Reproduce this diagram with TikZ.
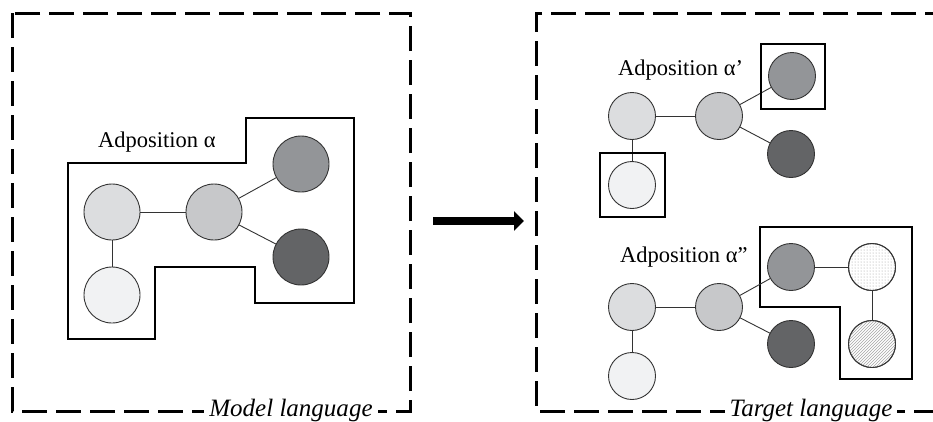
\documentclass[tikz,border=0pt]{standalone}
\usepackage{fontspec}
\setmainfont{Liberation Serif}
\usetikzlibrary{arrows.meta,patterns}
\definecolor{gA}{HTML}{DCDDDF}
\definecolor{gB}{HTML}{C7C8CA}
\definecolor{gC}{HTML}{939598}
\definecolor{gD}{HTML}{636466}
\definecolor{gE}{HTML}{F1F2F3}
\definecolor{edgec}{HTML}{333333}
\tikzset{
  big/.style={circle,draw=edgec,line width=0.9pt,minimum size=56pt,inner sep=0pt,outer sep=0pt},
  small/.style={circle,draw=edgec,line width=0.9pt,minimum size=47pt,inner sep=0pt,outer sep=0pt},
  link/.style={draw=edgec,line width=0.9pt},
  frame/.style={draw=black,line width=3pt,dash pattern=on 25pt off 9pt},
  group/.style={draw=black,line width=1.8pt,line join=miter},
  lbl/.style={font=\fontsize{22.5}{27}\selectfont,inner sep=0pt,anchor=base west},
  tag/.style={font=\fontsize{25}{30}\selectfont\itshape,fill=white,inner xsep=5pt,inner ysep=2pt,anchor=base}
}
\begin{document}
\begin{tikzpicture}[x=1pt,y=-1pt]
\useasboundingbox (0,0) rectangle (933,421);
\clip (0,0) rectangle (933,421);
% frames
\draw[frame] (12,13) rectangle (410,411);
\draw[frame] (950,13) -- (536,13) -- (536,411) -- (950,411);
% left group
\draw[group] (68,163) -- (246,163) -- (246,118) -- (354,118) -- (354,303) -- (255,303) -- (255,267) -- (155,267) -- (155,339) -- (68,339) -- cycle;
\node[big,fill=gA] (c1) at (112,212) {};
\node[big,fill=gB] (c2) at (214,212) {};
\node[big,fill=gC] (c3) at (301,164) {};
\node[big,fill=gD] (c4) at (301,257) {};
\node[big,fill=gE] (c5) at (112,295) {};
\draw[link] (c1) -- (c2);
\draw[link] (c2) -- (c3);
\draw[link] (c2) -- (c4);
\draw[link] (c1) -- (c5);
\node[lbl] (la) at (98,147) {Adposition α};
% arrow
\coordinate (a1) at (433,221);
\coordinate (a2) at (524,221);
\draw[line width=8pt,-{Triangle[length=10pt,width=19pt]}] (a1) -- (a2);
% right top
\node[small,fill=gA] (d1) at (632,116) {};
\node[small,fill=gB] (d2) at (719,116) {};
\node[small,fill=gC] (d3) at (792,76) {};
\node[small,fill=gD] (d4) at (791,154) {};
\node[small,fill=gE] (d5) at (632,185) {};
\draw[link] (d1) -- (d2);
\draw[link] (d2) -- (d3);
\draw[link] (d2) -- (d4);
\draw[link] (d1) -- (d5);
\draw[group] (761,44) rectangle (825,109);
\draw[group] (600,153) rectangle (665,217);
\node[lbl] (lb) at (618,75) {Adposition α’};
% right bottom
\draw[group] (760,227) -- (912,227) -- (912,379) -- (840,379) -- (840,307) -- (760,307) -- cycle;
\node[small,fill=gA] (e1) at (632,307) {};
\node[small,fill=gB] (e2) at (719,307) {};
\node[small,fill=gC] (e3) at (791,267) {};
\node[small,fill=gD] (e4) at (791,344) {};
\node[small,fill=gE] (e5) at (632,376) {};
\node[small,fill=white] (e6) at (872,267) {};
\node[small,pattern=dots,pattern color=gray!80] at (872,267) {};
\node[small,fill=white] (e7) at (872,344) {};
\node[small,pattern=north east lines,pattern color=gray!70] at (872,344) {};
\draw[link] (e1) -- (e2);
\draw[link] (e2) -- (e3);
\draw[link] (e2) -- (e4);
\draw[link] (e1) -- (e5);
\draw[link] (e3) -- (e6);
\draw[link] (e6) -- (e7);
\node[lbl] (lc) at (620,262) {Adposition α”};
% frame labels
\node[tag] (t1) at (291,416) {Model language};
\node[tag] (t2) at (811,416) {Target language};
\end{tikzpicture}
\end{document}
